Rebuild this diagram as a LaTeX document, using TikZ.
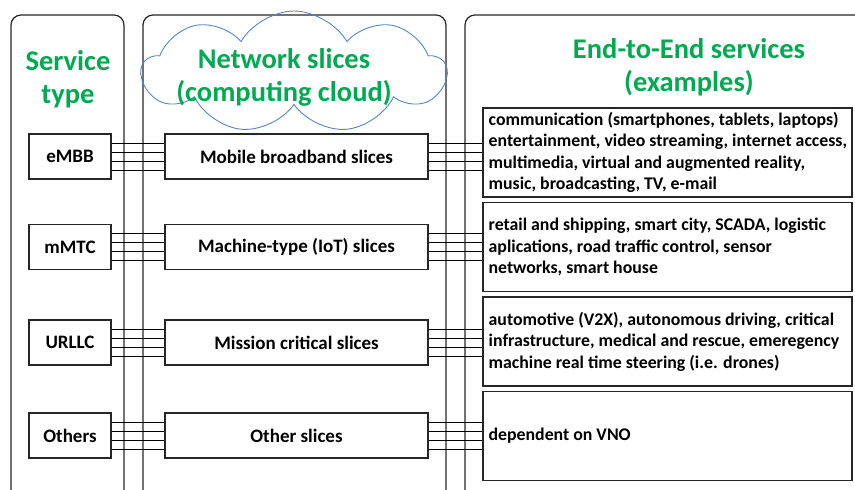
\documentclass[tikz,border=0pt]{standalone}
\usepackage{fontspec}
\setmainfont{Carlito}
\usetikzlibrary{shapes.symbols}
\definecolor{tgreen}{RGB}{0,170,80}
\definecolor{cblue}{RGB}{85,135,195}
\begin{document}
\begin{tikzpicture}[x=1pt,y=-1pt,
  panel/.style={draw=black!85, line width=1.2pt, rounded corners=10pt},
  rowbox/.style={draw=black!85, line width=1.1pt, minimum height=45pt, inner sep=0pt, font=\fontsize{19}{23}\selectfont\bfseries},
  exbox/.style={draw=black!85, line width=1.1pt, minimum width=369pt, minimum height=89pt, inner sep=0pt},
  extext/.style={anchor=west, align=left, inner sep=0pt, font=\fontsize{17.8}{21.4}\selectfont\bfseries},
  title/.style={text=tgreen, align=center, font=\fontsize{28.5}{33}\selectfont\bfseries, inner sep=0pt},
  wire/.style={draw=black, line width=0.8pt}]
\useasboundingbox (0,0) rectangle (855,490);
\clip (0,0) rectangle (855,490);
% panels
\draw[panel] (11,530) -- (11,15) -- (124,15) -- (124,530);
\draw[panel] (143,530) -- (143,15) -- (446,15) -- (446,530);
\draw[panel] (465,530) -- (465,15) -- (900,15) -- (900,530);
% cloud
\node[cloud, cloud puffs=9, cloud puff arc=120, draw=cblue, line width=0.9pt,
      minimum width=304pt, minimum height=122pt, inner sep=0pt] (cl) at (294,72) {};
% titles
\node[title] (t1) at (68,79) {Service\\type};
\node[title] (t2) at (284,77) {Network slices\\(computing cloud)};
\node[title] (t3) at (689,67) {End-to-End services\\(examples)};
% service type boxes
\node[rowbox, minimum width=82pt] (a1) at (70,156.5) {eMBB};
\node[rowbox, minimum width=82pt] (a2) at (70,247) {mMTC};
\node[rowbox, minimum width=82pt] (a3) at (70,342.5) {URLLC};
\node[rowbox, minimum width=82pt] (a4) at (70,435.5) {Others};
% slice boxes
\node[rowbox, minimum width=263pt] (s1) at (296.5,156.5) {Mobile broadband slices};
\node[rowbox, minimum width=263pt] (s2) at (296.5,247) {Machine-type (IoT) slices};
\node[rowbox, minimum width=263pt] (s3) at (296.5,342.5) {Mission critical slices};
\node[rowbox, minimum width=263pt] (s4) at (296.5,435.5) {Other slices};
% example boxes
\node[exbox] (e1) at (667.5,152.5) {};
\node[exbox] (e2) at (667.5,247) {};
\node[exbox] (e3) at (667.5,341.5) {};
\node[exbox] (e4) at (667.5,436) {};
\node[extext] (x1) at ([xshift=6pt]e1.west) {communication (smartphones, tablets, laptops)\\entertainment, video streaming, internet access,\\multimedia, virtual and augmented reality,\\music, broadcasting, TV, e-mail};
\node[extext] (x2) at ([xshift=6pt]e2.west) {retail and shipping, smart city, SCADA, logistic\\aplications, road traffic control, sensor\\networks, smart house};
\node[extext] (x3) at ([xshift=6pt]e3.west) {automotive (V2X), autonomous driving, critical\\infrastructure, medical and rescue, emeregency\\machine real time steering (i.e. drones)};
\node[extext] (x4) at ([xshift=6pt]e4.west) {dependent on VNO};
% connectors
\foreach \l/\s/\e in {a1/s1/e1, a2/s2/e2, a3/s3/e3, a4/s4/e4} {
  \foreach \d in {-13.5,-4.5,4.5,13.5} {
    \draw[wire] ([yshift=\d pt]\l.east) -- ([yshift=\d pt]\s.west);
    \draw[wire] ([yshift=\d pt]\s.east) -- ([yshift=\d pt]\s.east -| \e.west);
  }
}
\end{tikzpicture}
\end{document}
